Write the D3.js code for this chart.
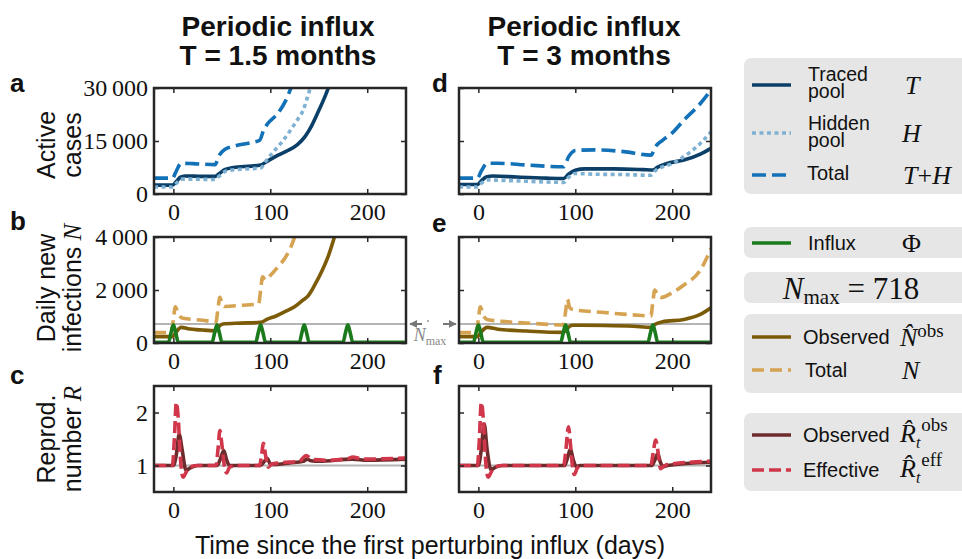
<!DOCTYPE html>
<html><head><meta charset="utf-8">
<script src="https://cdn.jsdelivr.net/npm/d3@7"></script>
<style>body{margin:0;background:#fff}svg{display:block}</style>
</head><body>
<svg id="chart" width="962" height="559"></svg>
<script>
// ---------- data ----------
const xTicks = [0, 100, 200];
const xTickLabels = ["0", "100", "200"];
const casesTicks = [0, 15000, 30000];
const casesTickLabels = ["0", "15\u2009000", "30\u2009000"];
const infTicks = [0, 2000, 4000];
const infTickLabels = ["0", "2\u2009000", "4\u2009000"];
const rTicks = [1, 2];
const rTickLabels = ["1", "2"];
const nMax = 718;
const rRef = 1;
const columnTitles = [["Periodic influx", "T = 1.5 months"], ["Periodic influx", "T = 3 months"]];

// Panel a: T = 1.5 months, active cases
const aTraced = [[-20,2500],[-1,2500],[3,3500],[7,4700],[12,5100],[30,5000],[43,5000],[47,5700],[53,6900],[62,7500],[80,7900],[90,8200],[97,9300],[108,11000],[118,12300],[128,14000],[136,16300],[143,19500],[150,23600],[157,28000],[162,31500]];
const aHidden = [[-20,2000],[-1,2000],[3,3000],[8,4200],[20,4200],[43,4100],[47,5000],[55,6600],[70,7000],[90,7400],[96,9500],[104,12200],[111,14400],[121,18100],[128,21000],[134,23800],[139,28000],[143,31500]];
const aTotal = [[-20,4500],[-1,4500],[3,6500],[8,8700],[20,8600],[43,8300],[47,10800],[53,12600],[65,13700],[80,14500],[89,15200],[93,18000],[97,19800],[108,22900],[116,26500],[122,30500]];

// Panel d: T = 3 months, active cases
const dTraced = [[-20,2700],[-1,2700],[3,3700],[8,4800],[15,5100],[40,4800],[70,4500],[88,4400],[93,5600],[100,6700],[110,7100],[140,7100],[170,6900],[180,6800],[185,7600],[194,8600],[212,9600],[229,11300],[240,12900]];
const dHidden = [[-20,2000],[-1,2000],[3,3000],[9,4000],[20,3900],[50,3600],[88,3300],[93,4700],[100,5800],[120,5600],[150,5500],[178,5300],[183,6700],[190,7700],[200,8600],[212,10600],[229,14300],[240,17600]];
const dTotal = [[-20,4500],[-1,4500],[3,6500],[9,8700],[20,8700],[50,8200],[88,7700],[93,10500],[100,12300],[120,12500],[150,12000],[178,11000],[183,13500],[190,15200],[200,17300],[212,20900],[229,25600],[240,29400]];

// Panel b: T = 1.5 months, daily new infections
const bObserved = [[-20,240],[-1,240],[3,420],[8,590],[15,540],[30,490],[44,465],[47,620],[51,720],[70,750],[90,780],[97,900],[106,1020],[115,1180],[125,1370],[133,1600],[139,1780],[146,2200],[153,2700],[160,3300],[167,4100]];
const bTotal = [[-20,390],[-2,390],[0,900],[2,1370],[5,1100],[10,930],[30,860],[44,800],[46,1300],[48,1720],[50,1500],[53,1380],[70,1420],[88,1480],[90,2000],[92,2500],[95,2380],[100,2550],[108,2880],[115,3200],[121,3600],[126,4100]];
const bInflux = [[-20,25],[-5,25],[-2.5,380],[0,690],[2.5,380],[5,25],[40,25],[42.5,380],[45,690],[47.5,380],[50,25],[85,25],[87.5,380],[90,690],[92.5,380],[95,25],[130,25],[132.5,380],[135,690],[137.5,380],[140,25],[175,25],[177.5,380],[180,690],[182.5,380],[185,25],[240,25]];

// Panel e: T = 3 months, daily new infections
const eObserved = [[-20,240],[-1,240],[3,420],[9,590],[20,520],[50,450],[88,400],[92,560],[97,670],[130,660],[160,630],[178,590],[182,700],[190,800],[212,890],[229,1080],[240,1330]];
const eTotal = [[-20,390],[-2,390],[0,900],[2,1370],[5,1050],[9,890],[30,800],[60,730],[88,680],[90,1200],[92,1650],[94,1350],[97,1270],[130,1150],[160,1060],[178,1020],[180,1550],[182,2000],[185,1800],[189,1720],[200,1900],[212,2190],[229,2750],[240,3570]];
const eInflux = [[-20,25],[-5,25],[-2.5,380],[0,690],[2.5,380],[5,25],[85,25],[87.5,380],[90,690],[92.5,380],[95,25],[175,25],[177.5,380],[180,690],[182.5,380],[185,25],[240,25]];

// Panel c: T = 1.5 months, reproduction number
const cObserved = [[-20,1],[0,1],[3,1.2],[6,1.59],[9,1.3],[13,0.91],[18,0.96],[25,1.0],[45,1.0],[48,1.1],[52,1.28],[55,1.1],[58,1.0],[90,1.0],[94,1.08],[97,1.13],[100,1.03],[104,1.02],[120,1.05],[134,1.08],[138,1.12],[142,1.09],[150,1.08],[185,1.12],[200,1.1],[240,1.12]];
const cEffective = [[-20,1],[-1,1],[1,1.5],[3,2.19],[5,1.9],[7,1.2],[10,0.78],[13,0.87],[17,0.97],[25,1.0],[44,1.0],[46,1.3],[48,1.66],[50,1.4],[53,0.95],[55,0.86],[58,0.97],[65,1.0],[89,1.0],[91,1.2],[93,1.42],[95,1.2],[98,0.97],[101,1.02],[110,1.05],[130,1.08],[137,1.19],[141,1.14],[145,1.11],[160,1.1],[180,1.13],[185,1.16],[195,1.12],[240,1.14]];

// Panel f: T = 3 months, reproduction number
const fObserved = [[-20,1],[0,1],[3,1.3],[6,1.78],[9,1.3],[13,0.92],[18,0.97],[25,1.0],[89,1.0],[92,1.15],[95,1.31],[98,1.1],[101,0.98],[105,1.0],[179,1.0],[182,1.1],[185,1.22],[188,1.05],[191,0.98],[195,1.0],[240,1.06]];
const fEffective = [[-20,1],[-1,1],[1,1.5],[3,2.19],[5,1.9],[7,1.2],[10,0.78],[13,0.87],[17,0.97],[25,1.0],[88,1.0],[90,1.25],[93,1.73],[95,1.4],[97,1.0],[99,0.83],[102,0.95],[106,1.0],[178,1.0],[180,1.2],[183,1.48],[185,1.3],[188,0.94],[191,0.98],[195,1.02],[240,1.08]];

// ---------- styles ----------
const C = {
  traced: "#0b3f68", hidden: "#7fb2d2", total: "#1371b8",
  influx: "#1b7a1b", obsN: "#7b5a08", totN: "#d5a352",
  obsR: "#6e2b2b", effR: "#d0374b", ref: "#b4b4b4", frame: "#262626"
};
const SANS = "'Liberation Sans', Arial, sans-serif";
const SERIF = "'Liberation Serif', 'Times New Roman', serif";
const LW = 3.6;

const svg = d3.select("#chart");
const cols = [{x0:154, x1:406}, {x0:459, x1:711}];
const rows = [{y0:88, y1:194}, {y0:237, y1:343}, {y0:386, y1:492}];

function panel(ci, ri, yDomain, yTicks, yLabels, showY, series, refVal, id) {
  const c = cols[ci], r = rows[ri];
  const x = d3.scaleLinear().domain([-20, 240]).range([c.x0, c.x1]);
  const y = d3.scaleLinear().domain(yDomain).range([r.y1, r.y0]);
  svg.append("clipPath").attr("id", id).append("rect")
    .attr("x", c.x0).attr("y", r.y0).attr("width", c.x1 - c.x0).attr("height", r.y1 - r.y0);
  const g = svg.append("g").attr("clip-path", `url(#${id})`);
  if (refVal !== null) {
    g.append("line").attr("x1", c.x0).attr("x2", c.x1).attr("y1", y(refVal)).attr("y2", y(refVal))
      .attr("stroke", C.ref).attr("stroke-width", 2);
  }
  series.forEach(s => {
    const line = d3.line().x(d => x(d[0])).y(d => y(d[1])).curve(d3.curveMonotoneX);
    g.append("path").datum(s.data).attr("d", line).attr("fill", "none")
      .attr("stroke", s.color).attr("stroke-width", LW)
      .attr("stroke-dasharray", s.dash || null)
      .attr("stroke-linejoin", "round");
  });
  const bottom = d3.axisBottom(x).tickValues(xTicks).tickSizeInner(-5).tickSizeOuter(0).tickFormat((d,i) => xTickLabels[i]);
  const top = d3.axisTop(x).tickValues(xTicks).tickSizeInner(-5).tickSizeOuter(0).tickFormat("");
  const left = d3.axisLeft(y).tickValues(yTicks).tickSizeInner(-5).tickSizeOuter(0).tickFormat((d,i) => showY ? yLabels[i] : "");
  const right = d3.axisRight(y).tickValues(yTicks).tickSizeInner(-5).tickSizeOuter(0).tickFormat("");
  const axes = [
    svg.append("g").attr("transform", `translate(0,${r.y1})`).call(bottom),
    svg.append("g").attr("transform", `translate(0,${r.y0})`).call(top),
    svg.append("g").attr("transform", `translate(${c.x0},0)`).call(left),
    svg.append("g").attr("transform", `translate(${c.x1},0)`).call(right)
  ];
  axes.forEach(a => {
    a.select(".domain").remove();
    a.selectAll("line").attr("stroke", C.frame).attr("stroke-width", 1.5);
    a.selectAll("text").attr("font-family", SERIF).attr("font-size", 24).attr("fill", "#111");
  });
  axes[0].selectAll("text").attr("dy", null).attr("y", 26);
  axes[2].selectAll("text").attr("x", -6).attr("dy", "0.33em");
  svg.append("rect").attr("x", c.x0).attr("y", r.y0).attr("width", c.x1 - c.x0).attr("height", r.y1 - r.y0)
    .attr("fill", "none").attr("stroke", C.frame).attr("stroke-width", 2.5);
  return {x, y};
}

const dashTot = "14,6", dotH = "4,3.5", dashN = "12,6", dashR = "12,5";
panel(0, 0, [0, 30000], casesTicks, casesTickLabels, true, [
  {data: aTraced, color: C.traced}, {data: aHidden, color: C.hidden, dash: dotH}, {data: aTotal, color: C.total, dash: dashTot}], null, "cpa");
panel(1, 0, [0, 30000], casesTicks, casesTickLabels, false, [
  {data: dTraced, color: C.traced}, {data: dHidden, color: C.hidden, dash: dotH}, {data: dTotal, color: C.total, dash: dashTot}], null, "cpd");
const pb = panel(0, 1, [0, 4000], infTicks, infTickLabels, true, [
  {data: bObserved, color: C.obsN}, {data: bTotal, color: C.totN, dash: dashN}, {data: bInflux, color: C.influx}], nMax, "cpb");
panel(1, 1, [0, 4000], infTicks, infTickLabels, false, [
  {data: eObserved, color: C.obsN}, {data: eTotal, color: C.totN, dash: dashN}, {data: eInflux, color: C.influx}], nMax, "cpe");
panel(0, 2, [0.5, 2.5], rTicks, rTickLabels, true, [
  {data: cObserved, color: C.obsR}, {data: cEffective, color: C.effR, dash: dashR}], rRef, "cpc");
panel(1, 2, [0.5, 2.5], rTicks, rTickLabels, false, [
  {data: fObserved, color: C.obsR}, {data: fEffective, color: C.effR, dash: dashR}], rRef, "cpf");

// titles
[[278, columnTitles[0]], [584, columnTitles[1]]].forEach(([cx, lines]) => {
  lines.forEach((t, i) => svg.append("text").attr("x", cx).attr("y", 36 + i * 29)
    .attr("text-anchor", "middle").attr("font-family", SANS).attr("font-weight", "bold")
    .attr("font-size", 28).attr("fill", "#111").text(t));
});

// panel letters
[["a",10,92],["b",10,230],["c",10,384],["d",432,92],["e",432,232],["f",433,384]].forEach(([l,x,y]) =>
  svg.append("text").attr("x", x).attr("y", y).attr("font-family", SANS).attr("font-weight", "bold")
    .attr("font-size", 26).attr("fill", "#111").text(l));

// y labels (rotated, two lines)
function yLabel(cy, l1, l2, math) {
  const t = svg.append("text").attr("transform", `translate(55,${cy}) rotate(-90)`)
    .attr("text-anchor", "middle").attr("font-family", SANS).attr("font-size", 25).attr("fill", "#111");
  t.append("tspan").attr("x", 0).attr("y", 0).text(l1);
  const s = t.append("tspan").attr("x", 0).attr("y", 26).text(l2);
  if (math) s.append("tspan").attr("font-family", SERIF).attr("font-style", "italic").text(" " + math);
}
yLabel(145, "Active", "cases", null);
yLabel(288, "Daily new", "infections", "N");
yLabel(439, "Reprod.", "number", "R");

// x axis title
svg.append("text").attr("x", 430).attr("y", 554).attr("text-anchor", "middle")
  .attr("font-family", SANS).attr("font-size", 25).attr("fill", "#111")
  .text("Time since the first perturbing influx (days)");

// N_max arrows between b and e
const yN = pb.y(nMax);
const defs = svg.append("defs");
defs.append("marker").attr("id", "ah").attr("viewBox", "0 0 10 10").attr("refX", 9).attr("refY", 5)
  .attr("markerWidth", 4).attr("markerHeight", 4).attr("orient", "auto")
  .append("path").attr("d", "M0,0L10,5L0,10z").attr("fill", "#777");
svg.append("line").attr("x1", 422).attr("x2", 410).attr("y1", yN).attr("y2", yN)
  .attr("stroke", "#777").attr("stroke-width", 2).attr("marker-end", "url(#ah)");
svg.append("line").attr("x1", 443).attr("x2", 456).attr("y1", yN).attr("y2", yN)
  .attr("stroke", "#777").attr("stroke-width", 2).attr("marker-end", "url(#ah)");
svg.append("circle").attr("cx", 428).attr("cy", yN - 3).attr("r", 0.8).attr("fill", "#555");
const nl = svg.append("text").attr("x", 430).attr("y", yN + 17).attr("text-anchor", "middle")
  .attr("font-family", SERIF).attr("fill", "#888").attr("font-size", 18);
nl.append("tspan").attr("font-style", "italic").text("N");
nl.append("tspan").attr("font-size", 12).attr("dy", 4).text("max");

// ---------- legends ----------
function box(y, h) {
  svg.append("rect").attr("x", 744).attr("y", y).attr("width", 240).attr("height", h)
    .attr("rx", 7).attr("fill", "#e6e6e6");
}
function lline(y, color, dash) {
  svg.append("line").attr("x1", 752).attr("x2", 791).attr("y1", y).attr("y2", y)
    .attr("stroke", color).attr("stroke-width", LW).attr("stroke-dasharray", dash || null);
}
function ltext(x, y, lines, size, lead) {
  const t = svg.append("text").attr("font-family", SANS).attr("font-size", size || 20)
    .attr("fill", "#111").attr("x", x).attr("y", y);
  lines.forEach((l, i) => t.append("tspan").attr("x", x).attr("dy", i === 0 ? 0 : (lead || 16)).text(l));
}
function mtext(x, y) {
  return svg.append("text").attr("x", x).attr("y", y).attr("font-family", SERIF)
    .attr("font-size", 26).attr("fill", "#111");
}
box(58, 136);
lline(85, C.traced); lline(133, C.hidden, dotH); lline(175, C.total, dashTot);
ltext(808, 81, ["Traced", "pool"], 19.5, 17); ltext(808, 130, ["Hidden", "pool"], 19.5, 17); ltext(807, 180, ["Total"]);
mtext(905, 94).attr("font-style", "italic").text("T");
mtext(902, 142).attr("font-style", "italic").text("H");
{ const m = mtext(903, 184);
  m.append("tspan").attr("font-style", "italic").text("T");
  m.append("tspan").text("+");
  m.append("tspan").attr("font-style", "italic").text("H"); }

box(227, 31);
lline(243, C.influx);
ltext(808, 250, ["Influx"]);
mtext(902, 252).text("\u03A6");

box(272, 31);
{ const m = mtext(851, 299).attr("text-anchor", "middle").attr("font-size", 31);
  m.append("tspan").attr("font-style", "italic").text("N");
  m.append("tspan").attr("font-size", 21).attr("dy", 5).text("max");
  m.append("tspan").attr("dy", -5).text(" = " + nMax); }

box(314, 79);
lline(337, C.obsN); lline(370, C.totN, dashN);
ltext(803, 344, ["Observed"]); ltext(805, 377, ["Total"]);
{ const m = mtext(900, 346);
  m.append("tspan").attr("font-style", "italic").text("N\u0302");
  m.append("tspan").attr("font-size", 19).attr("dy", -9).text("obs"); }
mtext(902, 379).attr("font-style", "italic").text("N");

box(413, 78);
lline(435, C.obsR); lline(470, C.effR, dashR);
ltext(803, 442, ["Observed"]); ltext(803, 477, ["Effective"]);
function rhat(y, sup) {
  const m = mtext(900, y);
  m.append("tspan").attr("font-style", "italic").text("R\u0302");
  m.append("tspan").attr("font-style", "italic").attr("font-size", 16).attr("dy", 6).text("t");
  m.append("tspan").attr("font-size", 19).attr("dx", 1).attr("dy", -17).text(sup);
}
rhat(442, "obs"); rhat(477, "eff");
</script>
</body></html>
